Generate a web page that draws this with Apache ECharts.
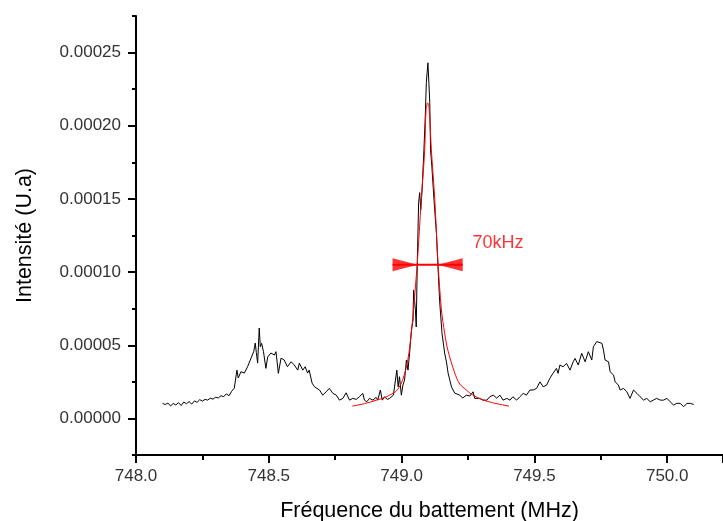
<!DOCTYPE html>
<html>
<head>
<meta charset="utf-8">
<script src="https://cdn.jsdelivr.net/npm/echarts@6/dist/echarts.min.js"></script>
<style>html,body{margin:0;padding:0;background:#fff}#c{width:723px;height:521px}</style>
</head>
<body>
<div id="c"></div>
<script>
// Measured spectrum (frequency in MHz, intensity in arbitrary units)
const freq = [748.100,748.110,748.120,748.130,748.140,748.150,748.160,748.170,748.180,748.190,748.200,748.210,748.220,748.230,748.240,748.250,748.260,748.270,748.280,748.290,748.300,748.310,748.320,748.330,748.340,748.350,748.360,748.370,748.380,748.385,748.395,748.408,748.420,748.433,748.443,748.449,748.453,748.458,748.464,748.468,748.473,748.480,748.489,748.496,748.508,748.521,748.527,748.536,748.546,748.558,748.570,748.584,748.590,748.596,748.609,748.615,748.628,748.637,748.646,748.652,748.663,748.672,748.691,748.703,748.716,748.728,748.741,748.754,748.766,748.779,748.791,748.804,748.816,748.829,748.841,748.854,748.860,748.869,748.879,748.892,748.904,748.910,748.920,748.927,748.936,748.946,748.955,748.961,748.969,748.976,748.982,748.987,748.992,748.999,749.005,749.011,749.018,749.024,749.030,749.037,749.043,749.045,749.052,749.055,749.059,749.064,749.068,749.072,749.077,749.084,749.089,749.093,749.099,749.103,749.106,749.109,749.114,749.122,749.131,749.137,749.143,749.152,749.162,749.169,749.175,749.188,749.200,749.219,749.230,749.244,749.257,749.269,749.275,749.294,749.306,749.321,749.332,749.345,749.358,749.370,749.382,749.396,749.408,749.419,749.433,749.445,749.458,749.470,749.483,749.495,749.508,749.521,749.533,749.546,749.558,749.570,749.583,749.589,749.596,749.608,749.621,749.634,749.646,749.653,749.665,749.678,749.691,749.703,749.716,749.722,749.735,749.741,749.754,749.760,749.766,749.779,749.785,749.798,749.804,749.816,749.823,749.835,749.848,749.860,749.873,749.886,749.898,749.911,749.923,749.936,749.948,749.960,749.974,749.986,749.999,750.011,750.024,750.036,750.049,750.062,750.074,750.087,750.100];
const intensity = [1.03e-5,0.95e-5,1.05e-5,0.85e-5,1.02e-5,0.92e-5,1.08e-5,0.88e-5,1.12e-5,1.00e-5,1.15e-5,0.98e-5,1.20e-5,1.10e-5,1.28e-5,1.18e-5,1.30e-5,1.25e-5,1.38e-5,1.32e-5,1.45e-5,1.40e-5,1.55e-5,1.48e-5,1.68e-5,1.55e-5,1.85e-5,2.07e-5,3.30e-5,2.76e-5,3.19e-5,3.10e-5,3.53e-5,4.12e-5,4.56e-5,5.15e-5,4.50e-5,3.78e-5,6.18e-5,4.90e-5,5.13e-5,4.56e-5,3.42e-5,4.21e-5,4.47e-5,4.33e-5,4.56e-5,3.08e-5,4.12e-5,3.99e-5,3.53e-5,3.87e-5,3.99e-5,3.65e-5,3.30e-5,3.78e-5,3.30e-5,3.53e-5,3.10e-5,3.30e-5,2.41e-5,2.16e-5,1.94e-5,1.59e-5,1.82e-5,2.05e-5,1.71e-5,1.59e-5,1.25e-5,1.37e-5,1.75e-5,1.25e-5,1.37e-5,1.30e-5,1.48e-5,1.71e-5,1.25e-5,1.14e-5,1.37e-5,1.25e-5,1.44e-5,1.25e-5,1.94e-5,1.25e-5,1.48e-5,1.30e-5,1.37e-5,1.25e-5,1.59e-5,1.48e-5,3.30e-5,2.16e-5,2.85e-5,1.59e-5,2.28e-5,2.62e-5,3.99e-5,3.30e-5,4.45e-5,6.04e-5,6.72e-5,8.78e-5,7.40e-5,6.25e-5,10.63e-5,14.74e-5,15.43e-5,14.26e-5,15.60e-5,18.35e-5,20.61e-5,22.94e-5,24.30e-5,22.80e-5,21.57e-5,18.35e-5,17.19e-5,14.93e-5,12.68e-5,10.35e-5,8.08e-5,5.83e-5,4.47e-5,3.85e-5,3.10e-5,2.14e-5,1.73e-5,1.59e-5,1.39e-5,1.59e-5,1.53e-5,1.82e-5,1.37e-5,1.37e-5,1.25e-5,1.25e-5,1.48e-5,1.59e-5,1.39e-5,1.59e-5,1.25e-5,1.37e-5,1.25e-5,1.48e-5,1.25e-5,1.48e-5,1.71e-5,1.59e-5,1.94e-5,1.94e-5,2.05e-5,2.50e-5,2.16e-5,2.28e-5,2.74e-5,3.08e-5,3.42e-5,3.08e-5,3.65e-5,3.53e-5,3.76e-5,3.30e-5,3.87e-5,4.10e-5,3.65e-5,4.45e-5,3.87e-5,4.56e-5,3.99e-5,4.90e-5,5.25e-5,5.36e-5,5.13e-5,4.67e-5,3.99e-5,3.87e-5,3.19e-5,2.96e-5,2.50e-5,2.28e-5,1.94e-5,2.05e-5,1.82e-5,1.37e-5,1.94e-5,1.71e-5,1.48e-5,1.25e-5,1.37e-5,1.14e-5,1.25e-5,1.37e-5,1.25e-5,1.25e-5,1.37e-5,1.14e-5,0.91e-5,1.03e-5,1.03e-5,0.80e-5,1.03e-5,1.03e-5,0.95e-5];

// Lorentzian fit curve
const fitFreq = [748.814,748.860,748.906,748.936,748.955,748.980,748.999,749.018,749.030,749.042,749.059,749.074,749.087,749.092,749.098,749.104,749.112,749.125,749.137,749.150,749.162,749.174,749.200,749.219,749.244,749.257,749.294,749.343,749.404];
const fitValue = [0.84e-5,1.01e-5,1.25e-5,1.42e-5,1.59e-5,1.87e-5,2.41e-5,3.51e-5,4.81e-5,6.87e-5,10.63e-5,14.93e-5,18.35e-5,21.10e-5,21.57e-5,21.10e-5,18.35e-5,14.93e-5,10.63e-5,7.41e-5,5.83e-5,4.67e-5,3.10e-5,2.35e-5,1.94e-5,1.73e-5,1.35e-5,1.07e-5,0.84e-5];

// FWHM annotation
const fwhmLine = [748.966, 749.230];
const fwhmLevel = 10.5e-5;
const arrowLeft = 749.013;
const arrowRight = 749.183;
const fwhmText = '70kHz';
const fwhmTextPos = [749.267, 12.0e-5];

const yLabelValues = [0, 0.00005, 0.0001, 0.00015, 0.0002, 0.00025];

const chart = echarts.init(document.getElementById('c'), null, {renderer: 'canvas'});
const font = 'Liberation Sans, Arial, sans-serif';
const spectrum = freq.map((f, i) => [f, intensity[i]]);
const fit = fitFreq.map((f, i) => [f, fitValue[i]]);

chart.setOption({
  animation: false,
  backgroundColor: '#fff',
  grid: {left: 136, right: 0, top: 16, bottom: 66, containLabel: false, outerBoundsMode: 'none'},
  xAxis: {
    type: 'value', min: 748.0, max: 750.21, interval: 0.5,
    name: 'Fréquence du battement (MHz)', nameLocation: 'middle', nameGap: 45,
    nameTextStyle: {fontFamily: font, fontSize: 21.5, color: '#000'},
    axisLine: {show: true, onZero: false, lineStyle: {color: '#000', width: 2}},
    axisTick: {show: true, inside: false, length: 8, lineStyle: {color: '#000', width: 2}},
    minorTick: {show: true, splitNumber: 2, length: 5, lineStyle: {color: '#000', width: 2}},
    axisLabel: {fontFamily: font, fontSize: 17, color: '#333', margin: 13, formatter: v => v.toFixed(1), showMaxLabel: false},
    splitLine: {show: false}
  },
  yAxis: [{
    type: 'value', min: -0.000025, max: 0.000275,
    name: 'Intensité (U.a)', nameLocation: 'middle', nameGap: 100, nameRotate: 90,
    nameTextStyle: {fontFamily: font, fontSize: 21.5, color: '#000'},
    axisLine: {show: true, onZero: false, lineStyle: {color: '#000', width: 2}},
    axisTick: {show: true, length: 8, customValues: yLabelValues, lineStyle: {color: '#000', width: 2}},
    axisLabel: {fontFamily: font, fontSize: 17, color: '#333', margin: 15, customValues: yLabelValues, formatter: v => v.toFixed(5)},
    splitLine: {show: false}
  }, {
    type: 'value', min: -0.000025, max: 0.000275, interval: 0.000025, position: 'left',
    axisLine: {show: false},
    axisTick: {show: true, length: 4, lineStyle: {color: '#000', width: 2}},
    axisLabel: {show: false},
    splitLine: {show: false}
  }],
  series: [
    {type: 'line', data: spectrum, showSymbol: false, symbol: 'none',
     lineStyle: {color: '#000', width: 1}, z: 2},
    {type: 'line', data: fit, showSymbol: false, symbol: 'none', smooth: 0.3,
     lineStyle: {color: '#ff0000', width: 1}, z: 3},
    {type: 'line', data: [[fwhmLine[0], fwhmLevel], [fwhmLine[1], fwhmLevel]], showSymbol: false, symbol: 'none',
     lineStyle: {color: '#ff0000', width: 2}, z: 4},
    {type: 'scatter', data: [[arrowLeft, fwhmLevel]], symbol: 'triangle', symbolSize: [13, 25], symbolRotate: -90,
     itemStyle: {color: '#ff0000'}, z: 5},
    {type: 'scatter', data: [[arrowRight, fwhmLevel]], symbol: 'triangle', symbolSize: [13, 25], symbolRotate: 90,
     itemStyle: {color: '#ff0000'}, z: 5},
    {type: 'scatter', data: [fwhmTextPos], symbolSize: 0, itemStyle: {color: 'rgba(0,0,0,0)'},
     label: {show: true, position: 'right', distance: 0, formatter: fwhmText, color: '#ff0000', fontFamily: font, fontSize: 18}, z: 6}
  ]
});
</script>
</body>
</html>
